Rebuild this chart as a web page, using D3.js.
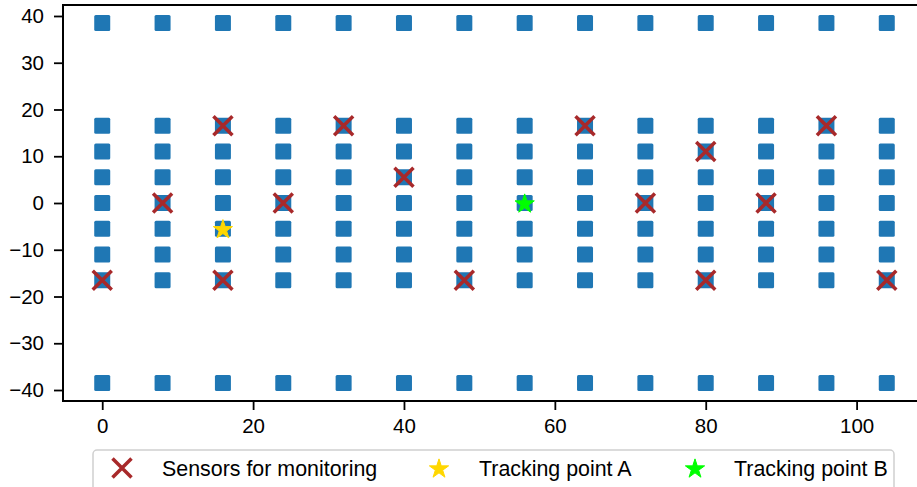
<!DOCTYPE html>
<html><head><meta charset="utf-8">
<script src="https://cdn.jsdelivr.net/npm/d3@7"></script>
<style>body{margin:0;background:#fff}svg{display:block}text{font-family:"Liberation Sans",Arial,sans-serif}</style>
</head><body><svg id="c" width="917" height="487"></svg>
<script>
const gridX = [0,8,16,24,32,40,48,56,64,72,80,88,96,104];
const gridY = [38.5,16.5,11,5.5,0,-5.5,-11,-16.5,-38.5];
const sensorX = [0,8,16,16,24,32,40,48,64,72,80,80,88,96,104];
const sensorY = [-16.5,0,16.5,-16.5,0,16.5,5.5,-16.5,16.5,0,11,-16.5,0,16.5,-16.5];
const pointA = [16,-5.5];
const pointB = [56,0];
const xTicks = [0,20,40,60,80,100];
const yTicks = [40,30,20,10,0,-10,-20,-30,-40];
const legendLabels = ["Sensors for monitoring","Tracking point A","Tracking point B"];

const svg = d3.select("#c");
const L=63, R=926, T=5, B=401;
const x = d3.scaleLinear().domain([-5.2,109.2]).range([L,R]);
const y = d3.scaleLinear().domain([-42.35,42.35]).range([B,T]);

const g = svg.append("g");
const pts = [];
gridX.forEach(a=>gridY.forEach(b=>pts.push([a,b])));
const s=16;
g.selectAll("rect.pt").data(pts).enter().append("rect")
 .attr("x",d=>x(d[0])-s/2).attr("y",d=>y(d[1])-s/2).attr("width",s).attr("height",s)
 .attr("rx",1.5).attr("fill","#1f77b4");

function drawX(sel, cx, cy, h){
  sel.append("path").attr("d",`M${cx-h},${cy-h}L${cx+h},${cy+h}M${cx-h},${cy+h}L${cx+h},${cy-h}`)
   .attr("stroke","#a8292a").attr("stroke-width",3.5).attr("fill","none");
}
sensorX.forEach((sx,i)=>drawX(g, x(sx), y(sensorY[i]), 9.5));

const star = d3.symbol().type(d3.symbolStar).size(115);
function drawStar(sel,cx,cy,col){
  sel.append("path").attr("d",star()).attr("transform",`translate(${cx},${cy+1})`)
   .attr("fill",col).attr("stroke",col).attr("stroke-width",1);
}
drawStar(g,x(pointA[0]),y(pointA[1]),"#ffd700");
drawStar(g,x(pointB[0]),y(pointB[1]),"#00ff00");

const xa = svg.append("g").attr("transform",`translate(0,${B})`)
  .call(d3.axisBottom(x).tickValues(xTicks).tickSize(9).tickPadding(8).tickFormat(d3.format("d")));
const ya = svg.append("g").attr("transform",`translate(${L},0)`)
  .call(d3.axisLeft(y).tickValues(yTicks).tickSize(9).tickPadding(10).tickFormat(d=>d<0?"\u2212"+(-d):d));
[xa,ya].forEach(a=>{a.select(".domain").remove();
 a.selectAll("line").attr("stroke","#000").attr("stroke-width",1.8);
 a.selectAll("text").attr("font-size",20.5).attr("fill","#000").style("font-family","'Liberation Sans',Arial,sans-serif");});
svg.append("rect").attr("x",L).attr("y",T).attr("width",R-L).attr("height",B-T)
 .attr("fill","none").attr("stroke","#000").attr("stroke-width",2);

const lg = svg.append("g");
lg.append("rect").attr("x",93).attr("y",450).attr("width",801).attr("height",60).attr("rx",4)
 .attr("fill","#fff").attr("stroke","#d0d0d0").attr("stroke-width",1.5);
const ly=468;
drawX(lg,122,ly,9.5);
drawStar(lg,439,ly,"#ffd700");
drawStar(lg,695,ly,"#00ff00");
const tx=[162,479,734];
legendLabels.forEach((t,i)=>lg.append("text").attr("x",tx[i]).attr("y",ly+8).attr("font-size",21.4).attr("fill","#000").text(t));
</script></body></html>
